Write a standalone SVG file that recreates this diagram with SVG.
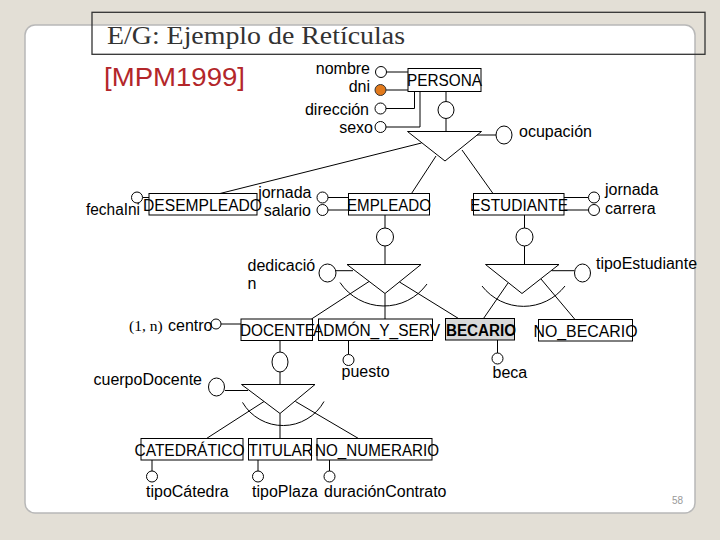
<svg xmlns="http://www.w3.org/2000/svg" width="720" height="540" viewBox="0 0 720 540">
<style>
.t{font-family:"Liberation Sans",Arial,sans-serif;font-size:16px;fill:#000}
.s{font-family:"Liberation Serif","Times New Roman",serif;font-size:15.5px;fill:#000}
.box{fill:none;stroke:#000;stroke-width:1}
.c{fill:#fff;stroke:#000;stroke-width:1}
.ln{fill:none;stroke:#000;stroke-width:1}
</style>
<rect x="0" y="0" width="720" height="540" fill="#e3dfd6"/>
<rect x="25" y="25" width="670" height="488" rx="10" fill="#fff" stroke="#b8b8b8" stroke-width="1.5"/>
<g id="title">
<rect x="92" y="12.3" width="613" height="42" fill="none" stroke="#333" stroke-width="1.3"/>
<text x="107" y="43.5" font-family="Liberation Serif,'Times New Roman',serif" font-size="25.5" fill="#333" textLength="298" lengthAdjust="spacingAndGlyphs">E/G: Ejemplo de Retículas</text>
</g>
<text x="104" y="86" font-family="Liberation Sans,Arial,sans-serif" font-size="25" fill="#b3262a" textLength="141" lengthAdjust="spacingAndGlyphs">[MPM1999]</text>
<text x="672" y="504" font-family="Liberation Sans,Arial,sans-serif" font-size="10" fill="#999">58</text>

<g id="connectors" class="ln">
<path d="M386.5 72H408M385.5 90H408M385.5 108.5H414.5V91.5M385.5 127H420V91.5"/>
<path d="M446 91.5V101.5M446 118.5V131.5M477 135H496"/>
<path d="M421.5 143L220 193.5M436 156L411.5 193.5M462 150L493 193.5"/>
<path d="M142.5 197.5H149M328 197.5H348.5M328 210H348.5M564 197.5H588.5M564 210H588.5"/>
<path d="M385 215V228M385 246V264.5M336 270.7H353"/>
<path d="M369 281.5L311.5 319M385 293.5V319M399.5 282L458.5 318.5"/>
<path d="M340 282.5A53 53 0 0 0 427 284"/>
<path d="M524.5 215V228M524.5 246V264.5M551.5 270.7H574.5"/>
<path d="M508 283L483.5 318.5M541 279L575 319.5"/>
<path d="M482 286A52.5 52.5 0 0 0 565 286"/>
<path d="M221 324H241M280 340.5V352M280 372V384.5M225 390.5H248"/>
<path d="M264 401.5L206.5 438.5M280 413.5V438.5M295.5 401.5L358.5 438.5"/>
<path d="M242.5 402.4A47 47 0 0 0 324 401.5"/>
<path d="M348.5 340.5V354.5M497.5 340V353"/>
<path d="M152 460V471M258 460V471M329.5 460V471"/>
</g>

<g id="persona">
<rect class="box" x="408" y="68.5" width="73" height="23"/>
<text class="t" x="407" y="86" textLength="75" lengthAdjust="spacingAndGlyphs">PERSONA</text>
<ellipse class="c" cx="446" cy="110" rx="8" ry="8.5"/>
<polygon class="ln" points="407.5,131.5 481.5,131.5 445,161"/>
</g>
<g id="attr-nombre"><circle class="c" cx="381" cy="72" r="5.5"/><text class="t" x="370" y="74" text-anchor="end">nombre</text></g>
<g id="attr-dni"><circle cx="380.5" cy="90" r="5.5" fill="#e27a1c" stroke="#333"/><text class="t" x="370" y="92" text-anchor="end">dni</text></g>
<g id="attr-direccion"><circle class="c" cx="380.5" cy="108.5" r="5.5"/><text class="t" x="369" y="114.5" text-anchor="end">dirección</text></g>
<g id="attr-sexo"><circle class="c" cx="380.5" cy="127" r="5.5"/><text class="t" x="373" y="132.5" text-anchor="end">sexo</text></g>
<g id="attr-ocupacion"><ellipse class="c" cx="504" cy="135" rx="8" ry="9"/><text class="t" x="519" y="137">ocupación</text></g>

<g id="desempleado">
<rect class="box" x="149" y="193.5" width="108" height="21.5"/>
<text class="t" x="143" y="210.5" textLength="119" lengthAdjust="spacingAndGlyphs">DESEMPLEADO</text>
</g>
<g id="attr-fechaIni"><circle class="c" cx="137" cy="197.5" r="5.5"/><text class="t" x="86" y="215" textLength="54" lengthAdjust="spacingAndGlyphs">fechaIni</text></g>

<g id="empleado">
<rect class="box" x="348.5" y="193.5" width="81" height="21.5"/>
<text class="t" x="347" y="210.5" textLength="84" lengthAdjust="spacingAndGlyphs">EMPLEADO</text>
<ellipse class="c" cx="385" cy="237" rx="8.5" ry="9"/>
<polygon class="ln" points="347,264.5 421,264.5 385,293.5"/>
</g>
<g id="attr-jornada-e"><circle class="c" cx="322.5" cy="197.5" r="5.5"/><text class="t" x="311.5" y="198" text-anchor="end">jornada</text></g>
<g id="attr-salario"><circle class="c" cx="322.5" cy="210" r="5.5"/><text class="t" x="311" y="216" text-anchor="end">salario</text></g>
<g id="attr-dedicacion"><ellipse class="c" cx="327.5" cy="273" rx="8.5" ry="9"/><text class="t" x="247.5" y="270.5">dedicació</text><text class="t" x="247.5" y="289">n</text></g>

<g id="estudiante">
<rect class="box" x="473.5" y="193.5" width="90.5" height="21.5"/>
<text class="t" x="470" y="210.5" textLength="98" lengthAdjust="spacingAndGlyphs">ESTUDIANTE</text>
<ellipse class="c" cx="524.5" cy="237" rx="8.5" ry="9"/>
<polygon class="ln" points="485.5,264.5 559,264.5 522,293.5"/>
</g>
<g id="attr-jornada-s"><circle class="c" cx="594" cy="197.5" r="5.5"/><text class="t" x="605" y="195">jornada</text></g>
<g id="attr-carrera"><circle class="c" cx="594" cy="210" r="5.5"/><text class="t" x="605" y="214">carrera</text></g>
<g id="attr-tipoEstudiante"><ellipse class="c" cx="582.5" cy="273" rx="8" ry="9"/><text class="t" x="596" y="269" textLength="101" lengthAdjust="spacingAndGlyphs">tipoEstudiante</text></g>

<g id="docente">
<rect class="box" x="241" y="319" width="71.5" height="21.5"/>
<text class="t" x="240" y="336" textLength="75" lengthAdjust="spacingAndGlyphs">DOCENTE</text>
<ellipse class="c" cx="280" cy="362" rx="8" ry="10"/>
<polygon class="ln" points="241.5,384.5 315,384.5 280,413.5"/>
</g>
<g id="attr-centro"><circle class="c" cx="216" cy="324" r="5"/><text class="s" x="129" y="331">(1, n)</text><text class="t" x="168" y="331">centro</text></g>
<g id="attr-cuerpoDocente"><ellipse class="c" cx="216.5" cy="387" rx="8" ry="9"/><text class="t" x="202" y="385" text-anchor="end">cuerpoDocente</text></g>

<g id="admon">
<rect class="box" x="318.5" y="319" width="114" height="21.5"/>
<text class="t" x="313" y="336" textLength="127" lengthAdjust="spacingAndGlyphs">ADMÓN_Y_SERV</text>
</g>
<g id="attr-puesto"><circle class="c" cx="348.5" cy="360" r="5.5"/><text class="t" x="341.5" y="376.5">puesto</text></g>

<g id="becario">
<rect x="445.5" y="318.5" width="69" height="21.5" fill="#d9d9d9" stroke="#000" stroke-width="1"/>
<text class="t" x="446" y="335.5" font-weight="bold" textLength="70" lengthAdjust="spacingAndGlyphs">BECARIO</text>
</g>
<g id="attr-beca"><circle class="c" cx="497.5" cy="358.5" r="5.5"/><text class="t" x="492.5" y="377.5">beca</text></g>

<g id="no-becario">
<rect class="box" x="538.5" y="319.5" width="94" height="21.5"/>
<text class="t" x="533.5" y="336.5" textLength="104" lengthAdjust="spacingAndGlyphs">NO_BECARIO</text>
</g>

<g id="catedratico">
<rect class="box" x="141" y="438.5" width="102" height="21.5"/>
<text class="t" x="134.5" y="455.5" textLength="110" lengthAdjust="spacingAndGlyphs">CATEDRÁTICO</text>
</g>
<g id="attr-tipoCatedra"><circle class="c" cx="152" cy="476.5" r="5.5"/><text class="t" x="146" y="497">tipoCátedra</text></g>

<g id="titular">
<rect class="box" x="248.5" y="438.5" width="63" height="21.5"/>
<text class="t" x="248.5" y="455.5" textLength="64.5" lengthAdjust="spacingAndGlyphs">TITULAR</text>
</g>
<g id="attr-tipoPlaza"><circle class="c" cx="258" cy="476.5" r="5.5"/><text class="t" x="252" y="497">tipoPlaza</text></g>

<g id="no-numerario">
<rect class="box" x="317" y="438.5" width="115" height="21.5"/>
<text class="t" x="315" y="455.5" textLength="124" lengthAdjust="spacingAndGlyphs">NO_NUMERARIO</text>
</g>
<g id="attr-duracionContrato"><circle class="c" cx="329.5" cy="476.5" r="5.5"/><text class="t" x="324" y="497" textLength="122.5" lengthAdjust="spacingAndGlyphs">duraciónContrato</text></g>
</svg>
